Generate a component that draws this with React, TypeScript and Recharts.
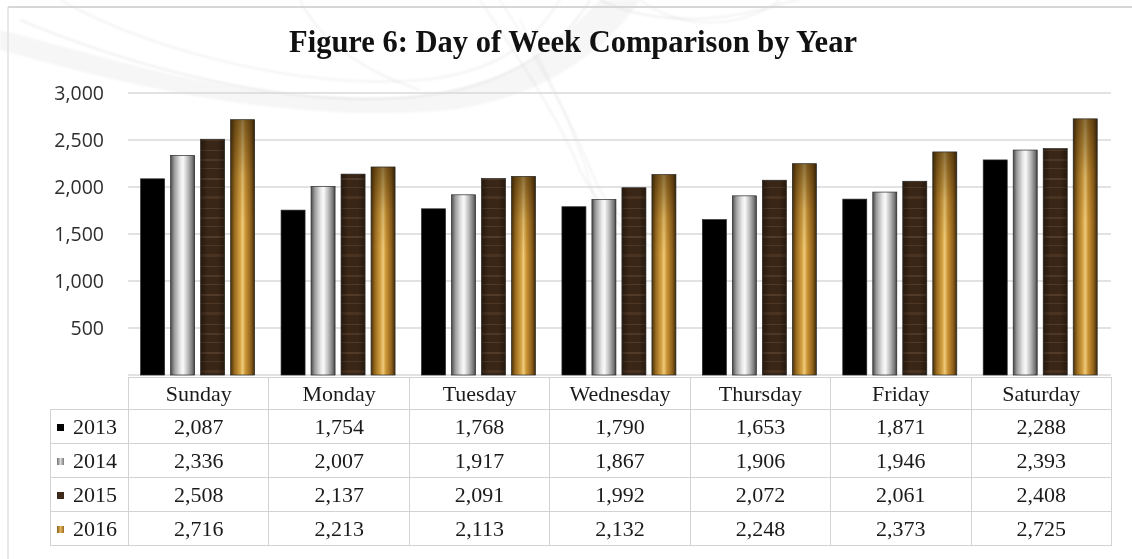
import { BarChart, Bar, XAxis, YAxis, CartesianGrid } from 'recharts';

const days = ['Sunday', 'Monday', 'Tuesday', 'Wednesday', 'Thursday', 'Friday', 'Saturday'];
const years = ['2013', '2014', '2015', '2016'];
const v2013 = [2087, 1754, 1768, 1790, 1653, 1871, 2288];
const v2014 = [2336, 2007, 1917, 1867, 1906, 1946, 2393];
const v2015 = [2508, 2137, 2091, 1992, 2072, 2061, 2408];
const v2016 = [2716, 2213, 2113, 2132, 2248, 2373, 2725];
const yTicks = [500, 1000, 1500, 2000, 2500, 3000];

const seriesValues = [v2013, v2014, v2015, v2016];
const data = days.map((day, i) => ({
  day,
  y2013: v2013[i],
  y2014: v2014[i],
  y2015: v2015[i],
  y2016: v2016[i],
}));

const W = 1132;
const H = 559;
const PLOT_LEFT = 128;
const PLOT_RIGHT = 1111;
const PLOT_TOP = 93;
const PLOT_BOTTOM = 375;
const LEGEND_COL = 78;
const COL_W = (PLOT_RIGHT - PLOT_LEFT) / days.length;

const fills = ['#000000', 'url(#silver)', 'url(#wood)', 'url(#gold)'];
const keyColors = [
  '#000000',
  'linear-gradient(90deg,#6e6e6e,#d8d8d8,#7a7a7a)',
  '#3d2a1a',
  'linear-gradient(90deg,#8a5e1c,#e0b45a,#9a6a22)',
];
const overlays = [null, null, 'url(#woodSides)', 'url(#goldTop)'];

const fmt = (n: number) => n.toLocaleString('en-US');

function TexturedBar(props: any) {
  const { x, y, width, height, fill, overlay } = props;
  if (!height || height <= 0) return null;
  return (
    <g>
      <rect x={x} y={y} width={width} height={height} fill={fill} />
      {overlay && <rect x={x} y={y} width={width} height={height} fill={overlay} />}
      <rect x={x} y={y} width={width} height={height} fill="none" stroke="#2a2a2a" strokeWidth={0.7} />
    </g>
  );
}

// faint smoke swirls behind the plot
function Smoke() {
  const s = { fill: 'none', stroke: '#c4c4c4', strokeWidth: 1.2 };
  return (
    <svg width={W} height={H} style={{ position: 'absolute', left: 0, top: 0 }}>
      <defs>
        <filter id="soft">
          <feGaussianBlur stdDeviation={1.2} />
        </filter>
      </defs>
      <g filter="url(#soft)">
        <path d="M0,30 C120,60 260,110 420,95 C520,85 560,40 600,0 L640,0 C600,60 520,110 420,112 C260,120 110,80 0,50 Z" fill="#eeeeee" opacity={0.5} />
        <path d="M20,20 C140,70 280,105 400,98 C500,92 560,50 590,0" {...s} opacity={0.45} />
        <path d="M60,0 C150,50 300,90 420,80 C510,72 540,30 560,0" {...s} opacity={0.35} />
        <path d="M300,0 C320,40 360,70 420,90" {...s} opacity={0.35} />
        <path d="M480,0 C520,60 560,120 580,170 C600,210 630,240 660,250" {...s} opacity={0.35} />
        <path d="M500,0 C545,70 575,130 595,180 C610,215 640,235 670,240" {...s} opacity={0.3} />
        <path d="M520,20 C560,100 590,160 600,230" {...s} opacity={0.25} />
        <path d="M600,0 C640,20 700,25 760,10 C780,5 790,0 800,0" {...s} opacity={0.4} />
        <path d="M640,0 C680,30 740,30 780,0" {...s} opacity={0.3} />
      </g>
      <line x1={8} y1={7} x2={W} y2={7} stroke="#d6d6d6" strokeWidth={2} />
      <line x1={8} y1={7} x2={8} y2={H} stroke="#e2e2e2" strokeWidth={1.5} />
      <text x={573} y={52} textAnchor="middle" fontFamily="'Liberation Serif', serif" fontWeight="bold" fontSize={30.5} fill="#111">
        Figure 6: Day of Week Comparison by Year
      </text>
    </svg>
  );
}

export default function App() {
  const cell = {
    border: '1px solid #d3d3d3',
    padding: 0,
    textAlign: 'center' as const,
    fontFamily: "'Liberation Serif', serif",
    fontSize: 22,
    color: '#1a1a1a',
  };
  return (
    <div style={{ position: 'absolute', left: 0, top: 0, width: W, height: H, background: '#fff', overflow: 'hidden' }}>
      <Smoke />
      <div style={{ position: 'absolute', left: 0, top: 0 }}>
        <BarChart
          width={W}
          height={H}
          data={data}
          margin={{ top: PLOT_TOP, right: W - PLOT_RIGHT, bottom: H - PLOT_BOTTOM, left: PLOT_LEFT - LEGEND_COL }}
          barCategoryGap="9%"
          barGap={6}
        >
          <defs>
            <linearGradient id="silver" x1="0" y1="0" x2="1" y2="0">
              <stop offset="0%" stopColor="#4a4a4a" />
              <stop offset="15%" stopColor="#9a9a9a" />
              <stop offset="40%" stopColor="#e6e6e6" />
              <stop offset="52%" stopColor="#fafafa" />
              <stop offset="72%" stopColor="#bcbcbc" />
              <stop offset="90%" stopColor="#7a7a7a" />
              <stop offset="100%" stopColor="#444" />
            </linearGradient>
            <linearGradient id="gold" x1="0" y1="0" x2="1" y2="0">
              <stop offset="0%" stopColor="#46300a" />
              <stop offset="16%" stopColor="#9a6a1e" />
              <stop offset="40%" stopColor="#d6a445" />
              <stop offset="50%" stopColor="#eecb7c" />
              <stop offset="62%" stopColor="#cc9434" />
              <stop offset="85%" stopColor="#8e601c" />
              <stop offset="100%" stopColor="#3e2a08" />
            </linearGradient>
            <linearGradient id="goldTop" x1="0" y1="0" x2="0" y2="1">
              <stop offset="0%" stopColor="#2a1a04" stopOpacity={0.5} />
              <stop offset="22%" stopColor="#2a1a04" stopOpacity={0.12} />
              <stop offset="40%" stopColor="#2a1a04" stopOpacity={0} />
            </linearGradient>
            <pattern id="wood" width={20} height={58} patternUnits="userSpaceOnUse">
              <rect width={20} height={58} fill="#3a2616" />
              <rect y={4} width={20} height={2} fill="#5e4430" opacity={0.7} />
              <rect y={13} width={20} height={1} fill="#6a4e38" opacity={0.45} />
              <rect y={22} width={20} height={3} fill="#4e3624" opacity={0.8} />
              <rect y={34} width={20} height={1} fill="#705540" opacity={0.45} />
              <rect y={43} width={20} height={2} fill="#5a402c" opacity={0.65} />
              <rect y={52} width={20} height={1} fill="#7a5e46" opacity={0.35} />
            </pattern>
            <linearGradient id="woodSides" x1="0" y1="0" x2="1" y2="0">
              <stop offset="0%" stopColor="#000" stopOpacity={0.35} />
              <stop offset="30%" stopColor="#000" stopOpacity={0} />
              <stop offset="70%" stopColor="#000" stopOpacity={0} />
              <stop offset="100%" stopColor="#000" stopOpacity={0.35} />
            </linearGradient>
          </defs>
          <CartesianGrid vertical={false} stroke="#d9d9d9" strokeWidth={1.5} />
          <XAxis dataKey="day" hide />
          <YAxis
            width={LEGEND_COL}
            domain={[0, 3000]}
            ticks={yTicks}
            axisLine={false}
            tickLine={false}
            tickSize={0}
            tickMargin={24}
            tickFormatter={fmt}
            tick={{ fill: '#2e2e2e', fontSize: 19.5, fontFamily: "'Open Sans', sans-serif" }}
          />
          {years.map((yr, i) => (
            <Bar
              key={yr}
              dataKey={`y${yr}`}
              fill={fills[i]}
              isAnimationActive={false}
              shape={(p: any) => <TexturedBar {...p} fill={fills[i]} overlay={overlays[i]} />}
            />
          ))}
        </BarChart>
      </div>
      <table
        style={{
          position: 'absolute',
          left: PLOT_LEFT - LEGEND_COL,
          top: 377,
          width: PLOT_RIGHT - (PLOT_LEFT - LEGEND_COL),
          borderCollapse: 'collapse',
          tableLayout: 'fixed',
        }}
      >
        <colgroup>
          <col style={{ width: LEGEND_COL }} />
          {days.map((d) => (
            <col key={d} style={{ width: COL_W }} />
          ))}
        </colgroup>
        <tbody>
          <tr style={{ height: 32 }}>
            <td style={{ padding: 0, border: 'none' }} />
            {days.map((d) => (
              <td key={d} style={cell}>{d}</td>
            ))}
          </tr>
          {years.map((yr, r) => (
            <tr key={yr} style={{ height: 34 }}>
              <td style={{ ...cell, textAlign: 'left', paddingLeft: 6, whiteSpace: 'nowrap' }}>
                <span
                  style={{
                    display: 'inline-block',
                    width: 7,
                    height: 7,
                    background: keyColors[r],
                    marginRight: 9,
                    verticalAlign: 'middle',
                    position: 'relative',
                    top: -1,
                  }}
                />
                {yr}
              </td>
              {seriesValues[r].map((v, c) => (
                <td key={c} style={cell}>{fmt(v)}</td>
              ))}
            </tr>
          ))}
        </tbody>
      </table>
    </div>
  );
}
